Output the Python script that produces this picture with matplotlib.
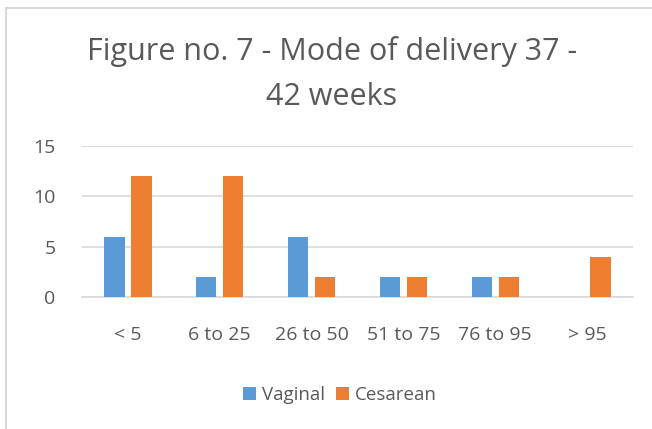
import numpy as np
import matplotlib.pyplot as plt
from matplotlib.lines import Line2D

categories = ['< 5', '6 to 25', '26 to 50', '51 to 75', '76 to 95', '> 95']
vaginal = [6, 2, 6, 2, 2, 0]
cesarean = [12, 12, 2, 2, 2, 4]

plt.rcParams['font.family'] = ['Open Sans', 'DejaVu Sans']
text_color = '#595959'

fig = plt.figure(figsize=(6.52, 4.29), dpi=100)
ax = fig.add_axes([82 / 652, 1 - 297 / 429, (633 - 82) / 652, (297 - 146) / 429])

x = np.arange(len(categories))
w = 0.22
ax.bar(x - 0.147, vaginal, w, color='#5b9bd5', label='Vaginal', zorder=3)
ax.bar(x + 0.147, cesarean, w, color='#ed7d31', label='Cesarean', zorder=3)

ax.set_xlim(-0.5, len(categories) - 0.5)
ax.set_ylim(0, 15)
ax.set_yticks([0, 5, 10, 15])
ax.set_xticks(x)
ax.set_xticklabels(categories)
ax.yaxis.grid(True, color='#d9d9d9', linewidth=1.2, zorder=0)
for s in ['top', 'right', 'left']:
    ax.spines[s].set_visible(False)
ax.spines['bottom'].set_color('#d9d9d9')
ax.spines['bottom'].set_linewidth(1.2)
ax.tick_params(axis='both', length=0, labelsize=14, colors=text_color)
ax.tick_params(axis='x', pad=21)
ax.tick_params(axis='y', pad=19)

fig.text(332 / 652, 1 - 74 / 429, 'Figure no. 7 - Mode of delivery 37 -\n42 weeks',
         ha='center', va='center', fontsize=22, color=text_color, linespacing=1.65)

fig.legend(loc='center', bbox_to_anchor=(340 / 652, 1 - 395 / 429), ncol=2,
           frameon=False, fontsize=13.5, handlelength=0.7, handleheight=0.7,
           handletextpad=0.3, columnspacing=0.6, labelcolor=text_color)

# chart border (left and top visible)
fig.add_artist(Line2D([6 / 652, 6 / 652], [0, 1 - 8 / 429], color='#d9d9d9', linewidth=1.5))
fig.add_artist(Line2D([6 / 652, 1], [1 - 8 / 429, 1 - 8 / 429], color='#d9d9d9', linewidth=1.5))

fig.savefig('out.png', dpi=100)
